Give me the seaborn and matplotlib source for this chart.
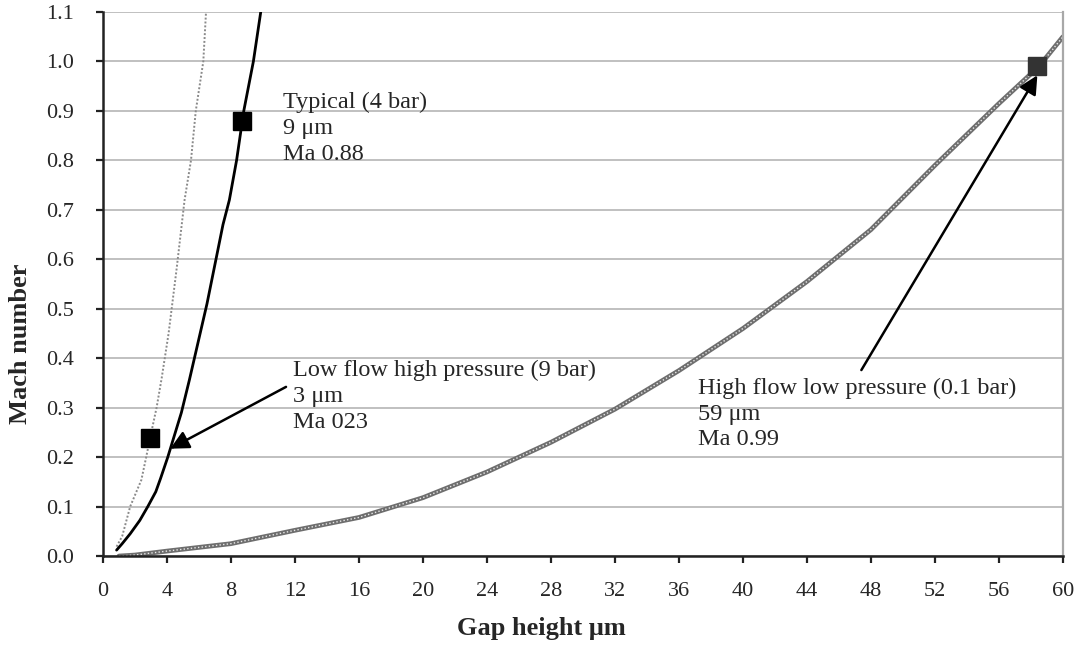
import matplotlib
matplotlib.use("Agg")
import matplotlib.pyplot as plt
import seaborn as sns
import pandas as pd

# ---- data ----
gap_low = [0.85, 1.2, 1.7, 2.4, 2.7, 2.94, 3.35, 3.67, 4.1, 4.6, 5.1, 5.5, 5.8, 6.27, 6.44]
mach_low = [0.019, 0.04, 0.10, 0.154, 0.20, 0.238, 0.30, 0.36, 0.45, 0.58, 0.72, 0.80, 0.90, 1.00, 1.10]

gap_typ = [0.85, 1.2, 1.7, 2.3, 2.8, 3.3, 3.6, 4.05, 4.9, 5.4, 6.0, 6.5, 7.0, 7.5, 7.9, 8.35, 8.8, 9.4, 9.86]
mach_typ = [0.012, 0.025, 0.045, 0.072, 0.10, 0.13, 0.157, 0.20, 0.29, 0.356, 0.44, 0.51, 0.59, 0.67, 0.72, 0.80, 0.90, 1.00, 1.10]

gap_high = [1.0, 2, 4, 8, 12, 16, 20, 24, 28, 32, 36, 40, 44, 48, 52, 56, 58.5, 60]
mach_high = [0.0, 0.002, 0.01, 0.025, 0.052, 0.078, 0.118, 0.17, 0.23, 0.297, 0.375, 0.46, 0.555, 0.66, 0.79, 0.915, 0.99, 1.05]

point_gap = [2.94, 8.7, 58.4]
point_mach = [0.238, 0.88, 0.99]
point_colors = ["#000000", "#000000", "#333333"]

x_ticks = list(range(0, 61, 4))
y_ticks = [round(0.1 * i, 1) for i in range(12)]

label_typ = "Typical (4 bar)\n9 μm\nMa 0.88"
label_low = "Low flow high pressure (9 bar)\n3 μm\nMa 023"
label_high = "High flow low pressure (0.1 bar)\n59 μm\nMa 0.99"

# ---- style ----
sns.set_style("white")
plt.rcParams["font.family"] = ["Liberation Serif", "DejaVu Serif"]

fig = plt.figure(figsize=(10.75, 6.47), dpi=100)
ax = fig.add_axes([0.0958, 0.1406, 0.9888 - 0.0958, 0.9815 - 0.1406])

ax.set_axisbelow(True)
ax.yaxis.grid(True, color="#c0c0c0", linewidth=1.4)
ax.xaxis.grid(False)

df_low = pd.DataFrame({"gap": gap_low, "mach": mach_low})
df_typ = pd.DataFrame({"gap": gap_typ, "mach": mach_typ})
df_high = pd.DataFrame({"gap": gap_high, "mach": mach_high})

sns.lineplot(data=df_low, x="gap", y="mach", ax=ax, sort=False, color="#8a8a8a",
             linewidth=1.4, linestyle=(0, (1, 1)))
sns.lineplot(data=df_typ, x="gap", y="mach", ax=ax, sort=False, color="#000000",
             linewidth=2.0)
sns.lineplot(data=df_high, x="gap", y="mach", ax=ax, sort=False, color="#6e6e6e",
             linewidth=3.4)
sns.lineplot(data=df_high, x="gap", y="mach", ax=ax, sort=False, color="#e8e8e8",
             linewidth=1.0, linestyle=(0, (1, 1.6)))

for gx, my, c in zip(point_gap, point_mach, point_colors):
    ax.plot([gx], [my], marker="s", markersize=12.5, color=c, linestyle="none", zorder=5)

# annotations
fs = 17.5
ls = 1.3
ax.text(11.25, 0.865, label_typ, fontsize=fs, ha="left", va="center", linespacing=ls)
ax.text(11.9, 0.323, label_low, fontsize=fs, ha="left", va="center", linespacing=ls)
ax.text(37.2, 0.287, label_high, fontsize=fs, ha="left", va="center", linespacing=ls)

arrow_kw = dict(arrowstyle="-|>", color="black", lw=1.8, mutation_scale=28,
                shrinkA=0, shrinkB=0)
ax.annotate("", xy=(4.2, 0.217), xytext=(11.44, 0.342), arrowprops=arrow_kw)
ax.annotate("", xy=(58.4, 0.972), xytext=(47.4, 0.376), arrowprops=arrow_kw)

# axes
ax.set_xlim(0, 60)
ax.set_ylim(0, 1.1)
ax.set_xticks(x_ticks)
ax.set_xticklabels([str(t) for t in x_ticks])
ax.set_yticks(y_ticks)
ax.set_yticklabels([f"{t:.1f}" for t in y_ticks])
ax.tick_params(axis="both", which="major", labelsize=16, direction="out",
               length=5, width=1.6, color="#222222", left=True, bottom=True)
ax.tick_params(axis="y", pad=16)
ax.tick_params(axis="x", pad=14)

for s in ["left", "bottom"]:
    ax.spines[s].set_color("#222222")
    ax.spines[s].set_linewidth(1.8)
ax.spines["right"].set_color("#a8a8a8")
ax.spines["right"].set_linewidth(1.6)
ax.spines["top"].set_visible(False)

ax.set_xlabel("Gap height μm", fontsize=19, fontweight="bold")
ax.set_ylabel("Mach number", fontsize=19, fontweight="bold")
ax.xaxis.set_label_coords(0.457, -0.112)
ax.yaxis.set_label_coords(-0.074, 0.39)

fig.savefig("out.png", dpi=100)
